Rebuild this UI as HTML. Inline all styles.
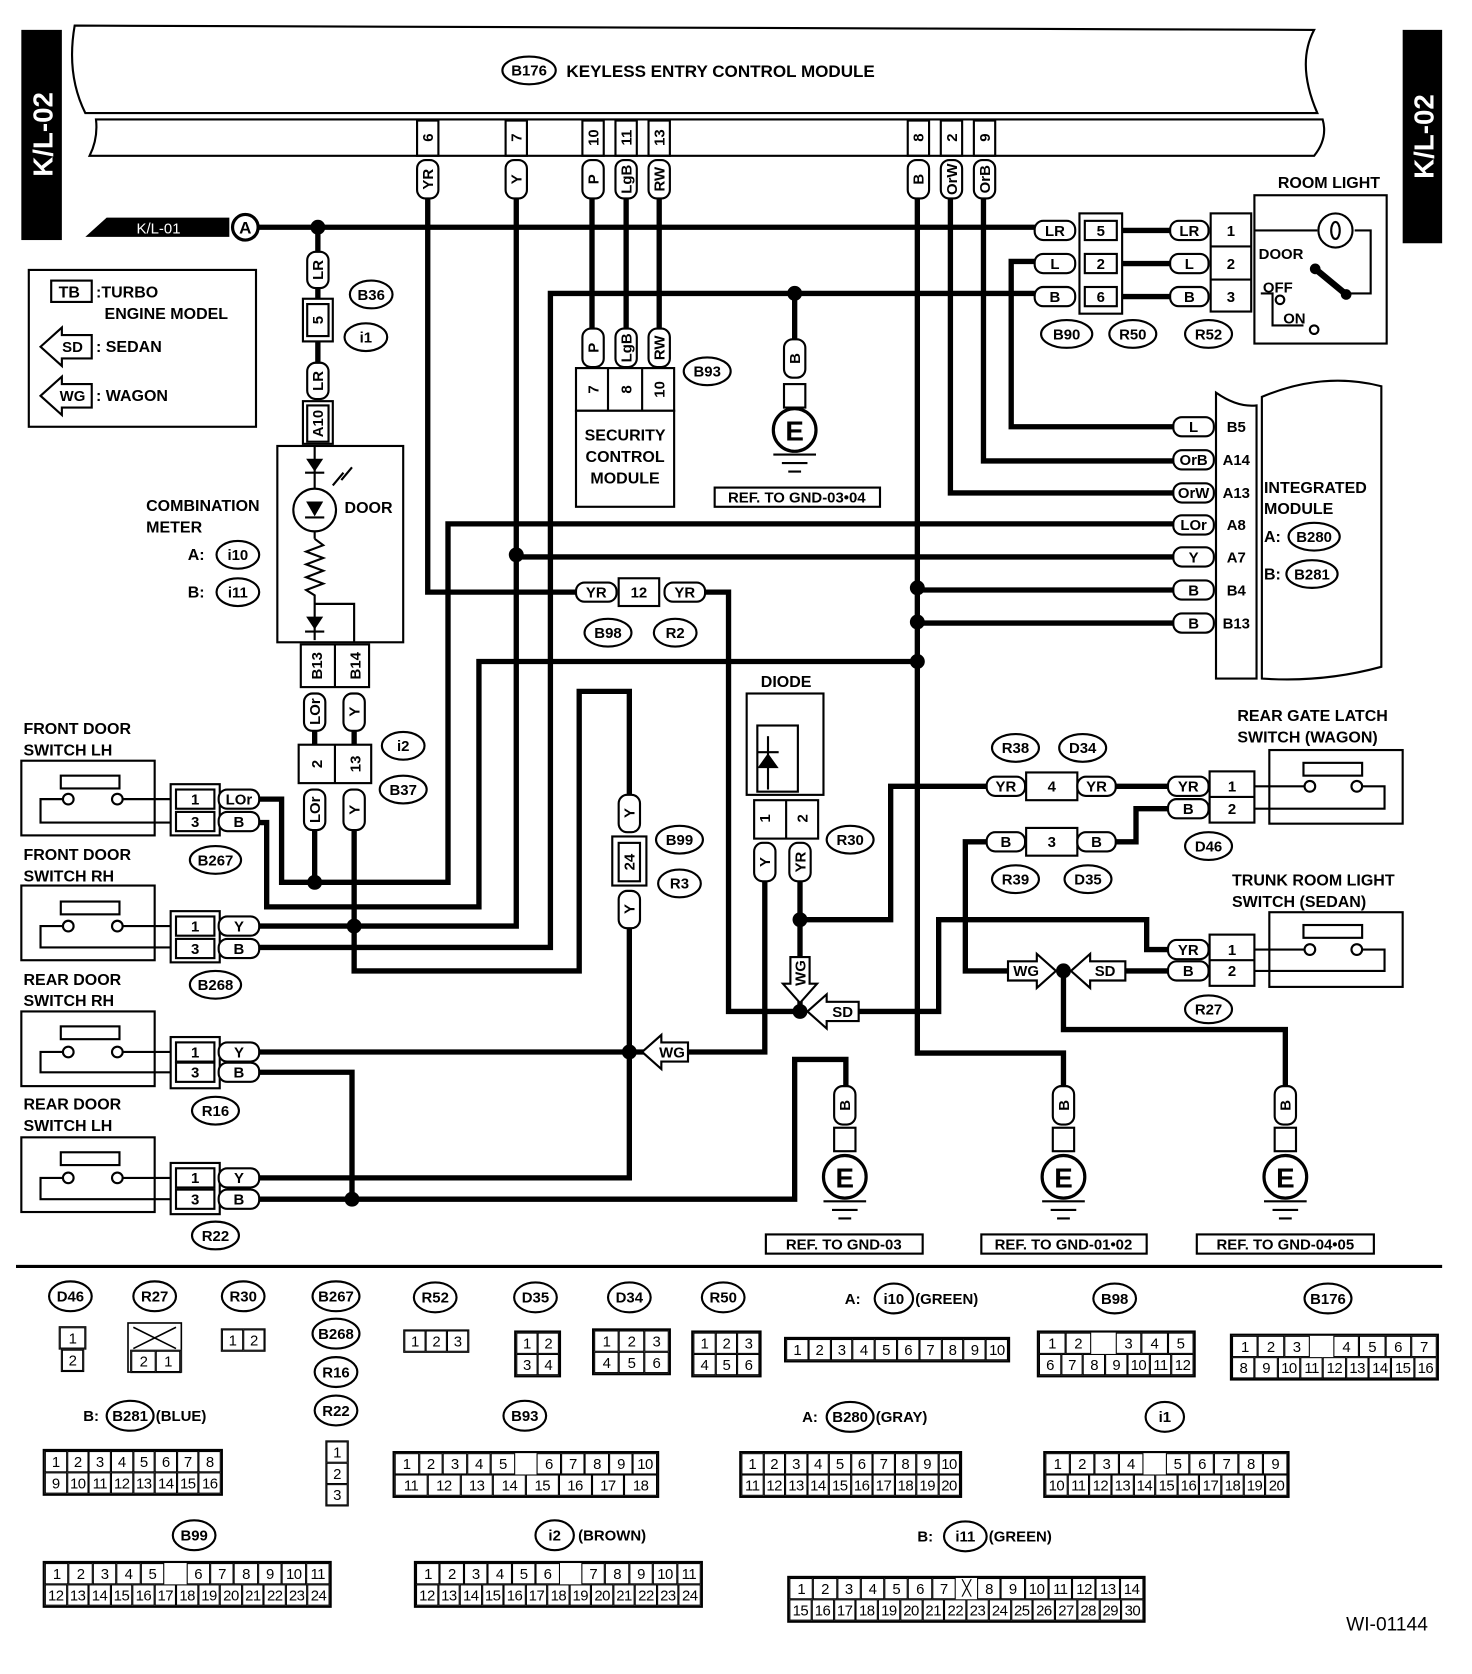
<!DOCTYPE html>
<html><head><meta charset="utf-8"><style>
html,body{margin:0;padding:0;background:#fff;}
#w{position:absolute;left:0;top:0;width:1380px;height:1569px;transform:scale(1.06667,1.06692);transform-origin:0 0;overflow:hidden;font-family:"Liberation Sans",sans-serif;font-weight:bold;}
svg{position:absolute;left:0;top:0;}
svg text{font-family:"Liberation Sans",sans-serif;font-weight:bold;}
.g{position:absolute;border:2px solid #000;background:#fff;}
.r{display:flex;}
.r span{flex:1;border:1px solid #000;height:18px;line-height:18px;text-align:center;font-size:14px;font-weight:normal;letter-spacing:-0.5px;}
.r span.n{border:none;}
</style></head><body><div id="w">
<svg width="1380" height="1569" viewBox="0 0 1380 1569">
<g fill="none" stroke="#000" stroke-width="2">
<path d="M70,24 L1232,28 Q1215,60 1235,106 L80,106 Q62,70 70,24 Z"/>
<path d="M90,112 L1240,112 Q1245,130 1232,146 L84,146 Q92,130 90,112 Z"/>
<rect x="391" y="113" width="20" height="33"/><rect x="474" y="113" width="20" height="33"/>
<rect x="546" y="113" width="20" height="33"/><rect x="577" y="113" width="20" height="33"/><rect x="608" y="113" width="20" height="33"/>
<rect x="851" y="113" width="20" height="33"/><rect x="882" y="113" width="20" height="33"/><rect x="913" y="113" width="20" height="33"/>
</g>
<rect x="20" y="28" width="38" height="197" fill="#000"/>
<rect x="1315" y="28" width="37" height="200" fill="#000"/>
<text transform="translate(49,126) rotate(-90)" text-anchor="middle" font-size="26" fill="#fff">K/L-02</text>
<text transform="translate(1344,128) rotate(-90)" text-anchor="middle" font-size="26" fill="#fff">K/L-02</text>
<ellipse cx="496" cy="66" rx="25" ry="13" fill="none" stroke="#000" stroke-width="2"/>
<text x="496" y="71" text-anchor="middle" font-size="14">B176</text>
<text x="531" y="72" font-size="16">KEYLESS ENTRY CONTROL MODULE</text>
<g font-size="14" text-anchor="middle">
<text transform="translate(406,129) rotate(-90)">6</text><text transform="translate(489,129) rotate(-90)">7</text>
<text transform="translate(561,129) rotate(-90)">10</text><text transform="translate(592,129) rotate(-90)">11</text><text transform="translate(623,129) rotate(-90)">13</text>
<text transform="translate(866,129) rotate(-90)">8</text><text transform="translate(897,129) rotate(-90)">2</text><text transform="translate(928,129) rotate(-90)">9</text>
</g>

<g fill="none" stroke="#000" stroke-width="5" stroke-linejoin="miter">
<path d="M242,213 H975"/>
<path d="M242,888 H516 V275 H975"/>
<path d="M745,275 V322"/>
<path d="M401,185 V555 H540"/>
<path d="M484,185 V868 H242"/>
<path d="M555,185 V310 M587,185 V310 M618,185 V310"/>
<path d="M298,213 V236 M298,270 V282 M298,318 V340"/>
<path d="M860,185 V987 H997 V1020"/>
<path d="M891,185 V462 H1100"/>
<path d="M922,185 V432 H1100"/>
<path d="M975,245 H948 V400 H1100"/>
<path d="M240,749 H264 V827 H420 V491 H1100"/>
<path d="M295,778 V827 M332,778 V868"/>
<path d="M295,685 V700 M332,685 V700"/>
<path d="M240,771 H250 V850 H449 V620 H860"/>
<path d="M484,522 H1100 M860,553 H1100 M860,584 H1100"/>
<path d="M660,555 H683 V948 H750"/>
<path d="M240,986 H717 V825"/>
<path d="M332,868 V910 H543 V648 H590 V745 M590,870 V1104 H240"/>
<path d="M240,1005 H330 V1124 M240,1124 H745 V993 H793 V1020"/>
<path d="M750,825 V948 M750,862 H835 V737 H925"/>
<path d="M800,948 H880 V862 H1075 V890 H1095"/>
<path d="M1045,737 H1095 M1095,758 H1065 V789 H1045"/>
<path d="M925,789 H905 V910 H950 M1055,910 H1095"/>
<path d="M997,910 V965 H1205 V1020"/>
<path d="M1050,216 H1115 M1050,247 H1115 M1050,278 H1115"/>
</g>
<g fill="#000">
<circle cx="298" cy="213" r="7"/><circle cx="745" cy="275" r="7"/><circle cx="484" cy="520" r="7"/>
<circle cx="860" cy="551" r="7"/><circle cx="860" cy="583" r="7"/><circle cx="860" cy="620" r="7"/>
<circle cx="295" cy="827" r="7"/><circle cx="332" cy="868" r="7"/><circle cx="330" cy="1124" r="7"/>
<circle cx="590" cy="986" r="7"/><circle cx="750" cy="862" r="7"/><circle cx="750" cy="948" r="7"/>
<circle cx="997" cy="910" r="7"/>
</g>

<polygon points="80,222 100,204 215,204 215,222" fill="#000"/>
<text x="128" y="219" font-size="14" fill="#fff" style="font-weight:normal">K/L-01</text>
<circle cx="230" cy="213" r="12" fill="#fff" stroke="#000" stroke-width="3"/>
<text x="230" y="219" text-anchor="middle" font-size="16">A</text>

<g fill="#fff" stroke="#000" stroke-width="2">
<rect x="391" y="150" width="20" height="36" rx="8"/><rect x="474" y="150" width="20" height="36" rx="8"/>
<rect x="546" y="150" width="20" height="36" rx="8"/><rect x="577" y="150" width="20" height="36" rx="8"/><rect x="608" y="150" width="20" height="36" rx="8"/>
<rect x="851" y="150" width="20" height="36" rx="8"/><rect x="882" y="150" width="20" height="36" rx="8"/><rect x="913" y="150" width="20" height="36" rx="8"/>
<rect x="546" y="308" width="20" height="36" rx="8"/><rect x="577" y="308" width="20" height="36" rx="8"/><rect x="608" y="308" width="20" height="36" rx="8"/>
<rect x="288" y="236" width="20" height="34" rx="8"/><rect x="288" y="340" width="20" height="34" rx="8"/>
<rect x="285" y="650" width="20" height="35" rx="8"/><rect x="322" y="650" width="20" height="35" rx="8"/>
<rect x="285" y="740" width="20" height="38" rx="8"/><rect x="322" y="740" width="20" height="38" rx="8"/>
<rect x="580" y="745" width="20" height="35" rx="8"/><rect x="580" y="835" width="20" height="35" rx="8"/>
<rect x="707" y="790" width="20" height="36" rx="8"/><rect x="740" y="790" width="20" height="36" rx="8"/>
<rect x="735" y="318" width="20" height="36" rx="8"/>
<rect x="782" y="1018" width="20" height="36" rx="8"/><rect x="987" y="1018" width="20" height="36" rx="8"/><rect x="1195" y="1018" width="20" height="36" rx="8"/>
<rect x="284" y="280" width="28" height="40"/><rect x="288" y="285" width="20" height="30"/>
<rect x="284" y="376" width="28" height="40"/><rect x="288" y="380" width="20" height="34"/>
<rect x="282" y="604" width="64" height="40"/><line x1="314" y1="604" x2="314" y2="644"/>
<rect x="280" y="698" width="68" height="36"/><line x1="314" y1="698" x2="314" y2="734"/>
<rect x="574" y="784" width="32" height="46"/><rect x="580" y="790" width="20" height="36"/>
<rect x="540" y="345" width="92" height="40"/><line x1="570" y1="345" x2="570" y2="385"/><line x1="602" y1="345" x2="602" y2="385"/>
<rect x="540" y="385" width="92" height="90"/>
<rect x="735" y="360" width="20" height="22"/><rect x="782" y="1057" width="20" height="22"/><rect x="987" y="1057" width="20" height="22"/><rect x="1195" y="1057" width="20" height="22"/>
<rect x="700" y="650" width="72" height="95"/><rect x="710" y="680" width="38" height="62" fill="none"/>
<rect x="707" y="750" width="60" height="36"/><line x1="737" y1="750" x2="737" y2="786"/>
<rect x="260" y="418" width="118" height="184"/>
</g>
<g font-size="14" text-anchor="middle">
<text transform="translate(406,168) rotate(-90)">YR</text><text transform="translate(489,168) rotate(-90)">Y</text>
<text transform="translate(561,168) rotate(-90)">P</text><text transform="translate(592,168) rotate(-90)">LgB</text><text transform="translate(623,168) rotate(-90)">RW</text>
<text transform="translate(866,168) rotate(-90)">B</text><text transform="translate(897,168) rotate(-90)">OrW</text><text transform="translate(928,168) rotate(-90)">OrB</text>
<text transform="translate(561,326) rotate(-90)">P</text><text transform="translate(592,326) rotate(-90)">LgB</text><text transform="translate(623,326) rotate(-90)">RW</text>
<text transform="translate(561,365) rotate(-90)">7</text><text transform="translate(592,365) rotate(-90)">8</text><text transform="translate(623,365) rotate(-90)">10</text>
<text transform="translate(303,253) rotate(-90)">LR</text><text transform="translate(303,300) rotate(-90)">5</text>
<text transform="translate(303,357) rotate(-90)">LR</text><text transform="translate(303,397) rotate(-90)">A10</text>
<text transform="translate(302,624) rotate(-90)">B13</text><text transform="translate(338,624) rotate(-90)">B14</text>
<text transform="translate(300,667) rotate(-90)">LOr</text><text transform="translate(337,667) rotate(-90)">Y</text>
<text transform="translate(302,716) rotate(-90)">2</text><text transform="translate(338,716) rotate(-90)">13</text>
<text transform="translate(300,759) rotate(-90)">LOr</text><text transform="translate(337,759) rotate(-90)">Y</text>
<text transform="translate(595,762) rotate(-90)">Y</text><text transform="translate(595,808) rotate(-90)">24</text><text transform="translate(595,852) rotate(-90)">Y</text>
<text transform="translate(722,767) rotate(-90)">1</text><text transform="translate(757,767) rotate(-90)">2</text>
<text transform="translate(722,808) rotate(-90)">Y</text><text transform="translate(755,808) rotate(-90)">YR</text>
<text transform="translate(750,336) rotate(-90)">B</text>
<text transform="translate(797,1036) rotate(-90)">B</text><text transform="translate(1002,1036) rotate(-90)">B</text><text transform="translate(1210,1036) rotate(-90)">B</text>
</g>
<g font-size="15" text-anchor="middle">
<text x="586" y="413">SECURITY</text><text x="586" y="433">CONTROL</text><text x="586" y="453">MODULE</text>
<text x="737" y="644">DIODE</text>
</g>
<path d="M720,690 V740" stroke="#000" stroke-width="2"/>
<polygon points="710,720 730,720 720,706" fill="#000"/><line x1="710" y1="705" x2="730" y2="705" stroke="#000" stroke-width="2"/>

<g stroke="#000" stroke-width="2" fill="none">
<path d="M295,418 V458 M295,498 V505 M295,505 l8,6 l-16,6 l16,6 l-16,6 l16,6 l-16,6 l16,6 l-16,6 l8,5 V600 M295,566 H332 V602"/>
<circle cx="295" cy="478" r="20"/>
<path d="M312,455 l10,-12 M320,450 l10,-12"/>
</g>
<g fill="#000">
<polygon points="287,430 303,430 295,442"/><line x1="286" y1="443" x2="304" y2="443" stroke="#000" stroke-width="2"/>
<polygon points="287,470 303,470 295,484"/><line x1="286" y1="485" x2="304" y2="485" stroke="#000" stroke-width="2"/>
<polygon points="287,578 303,578 295,590"/><line x1="286" y1="592" x2="304" y2="592" stroke="#000" stroke-width="2"/>
</g>
<text x="323" y="481" font-size="15">DOOR</text>
<g font-size="15"><text x="137" y="479">COMBINATION</text><text x="137" y="499">METER</text>
<text x="176" y="525">A:</text><text x="176" y="560">B:</text></g>

<rect x="27" y="253" width="213" height="147" fill="none" stroke="#000" stroke-width="2"/>
<rect x="48" y="263" width="38" height="20" fill="none" stroke="#000" stroke-width="2"/>
<g font-size="15"><text x="55" y="279">TB</text><text x="90" y="279">:TURBO</text><text x="98" y="299">ENGINE MODEL</text>
<text x="90" y="330">: SEDAN</text><text x="90" y="376">: WAGON</text></g>
<g fill="#fff" stroke="#000" stroke-width="2">
<polygon points="38,325 58,307 58,314 86,314 86,336 58,336 58,343"/>
<polygon points="38,371 58,353 58,360 86,360 86,382 58,382 58,389"/>
<polygon points="602,986 620,970 620,977 645,977 645,995 620,995 620,1002"/>
<polygon points="750,940 734,922 741,922 741,897 759,897 759,922 766,922"/>
<polygon points="757,948 775,932 775,939 805,939 805,957 775,957 775,964"/>
<polygon points="990,910 972,894 972,901 945,901 945,919 972,919 972,926"/>
<polygon points="1004,910 1022,894 1022,901 1055,901 1055,919 1022,919 1022,926"/>
</g>
<g font-size="14" text-anchor="middle"><text x="68" y="330">SD</text><text x="68" y="376">WG</text>
<text x="630" y="991">WG</text><text transform="translate(755,912) rotate(-90)">WG</text><text x="790" y="953">SD</text>
<text x="962" y="915">WG</text><text x="1036" y="915">SD</text></g>

<g fill="#fff" stroke="#000" stroke-width="2">
<rect x="970" y="207" width="38" height="18" rx="8"/><rect x="970" y="238" width="38" height="18" rx="8"/><rect x="970" y="269" width="38" height="18" rx="8"/>
<rect x="1012" y="200" width="40" height="94"/><rect x="1017" y="207" width="30" height="18"/><rect x="1017" y="238" width="30" height="18"/><rect x="1017" y="269" width="30" height="18"/>
<rect x="1097" y="207" width="36" height="18" rx="8"/><rect x="1097" y="238" width="36" height="18" rx="8"/><rect x="1097" y="269" width="36" height="18" rx="8"/>
<rect x="1135" y="200" width="38" height="92"/><line x1="1135" y1="231" x2="1173" y2="231"/><line x1="1135" y1="262" x2="1173" y2="262"/>
<rect x="1176" y="183" width="124" height="139"/>
<path d="M1140,368 Q1160,382 1178,380 V636 H1140 Z"/>
<path d="M1183,372 Q1240,348 1295,362 V625 Q1240,640 1183,636 Z"/>
<rect x="1100" y="391" width="38" height="18" rx="8"/><rect x="1100" y="422" width="38" height="18" rx="8"/><rect x="1100" y="453" width="38" height="18" rx="8"/>
<rect x="1100" y="483" width="38" height="18" rx="8"/><rect x="1100" y="513" width="38" height="18" rx="8"/><rect x="1100" y="544" width="38" height="18" rx="8"/><rect x="1100" y="575" width="38" height="18" rx="8"/>
<rect x="540" y="546" width="38" height="18" rx="8"/><rect x="580" y="542" width="38" height="26"/><rect x="623" y="546" width="38" height="18" rx="8"/>
<rect x="160" y="735" width="46" height="48"/><rect x="165" y="740" width="36" height="18"/><rect x="165" y="761" width="36" height="18"/>
<rect x="205" y="740" width="38" height="18" rx="8"/><rect x="205" y="761" width="38" height="18" rx="8"/>
<rect x="160" y="854" width="46" height="48"/><rect x="165" y="859" width="36" height="18"/><rect x="165" y="880" width="36" height="18"/>
<rect x="205" y="859" width="38" height="18" rx="8"/><rect x="205" y="880" width="38" height="18" rx="8"/>
<rect x="160" y="972" width="46" height="48"/><rect x="165" y="977" width="36" height="18"/><rect x="165" y="996" width="36" height="18"/>
<rect x="205" y="977" width="38" height="18" rx="8"/><rect x="205" y="996" width="38" height="18" rx="8"/>
<rect x="160" y="1090" width="46" height="48"/><rect x="165" y="1095" width="36" height="18"/><rect x="165" y="1115" width="36" height="18"/>
<rect x="205" y="1095" width="38" height="18" rx="8"/><rect x="205" y="1115" width="38" height="18" rx="8"/>
<rect x="20" y="713" width="125" height="70"/><rect x="20" y="830" width="125" height="70"/><rect x="20" y="948" width="125" height="70"/><rect x="20" y="1066" width="125" height="70"/>
<rect x="925" y="728" width="36" height="18" rx="8"/><rect x="962" y="724" width="48" height="26"/><rect x="1010" y="728" width="36" height="18" rx="8"/>
<rect x="925" y="780" width="36" height="18" rx="8"/><rect x="962" y="776" width="48" height="26"/><rect x="1010" y="780" width="36" height="18" rx="8"/>
<rect x="1095" y="728" width="38" height="18" rx="8"/><rect x="1095" y="749" width="38" height="18" rx="8"/>
<rect x="1134" y="723" width="42" height="48"/><line x1="1134" y1="747" x2="1176" y2="747"/>
<rect x="1095" y="881" width="38" height="18" rx="8"/><rect x="1095" y="901" width="38" height="18" rx="8"/>
<rect x="1134" y="876" width="42" height="48"/><line x1="1134" y1="900" x2="1176" y2="900"/>
<rect x="1190" y="703" width="125" height="69"/><rect x="1190" y="855" width="125" height="70"/>
</g>
<g font-size="14" text-anchor="middle">
<text x="989" y="221">LR</text><text x="989" y="252">L</text><text x="989" y="283">B</text>
<text x="1032" y="221">5</text><text x="1032" y="252">2</text><text x="1032" y="283">6</text>
<text x="1115" y="221">LR</text><text x="1115" y="252">L</text><text x="1115" y="283">B</text>
<text x="1154" y="221">1</text><text x="1154" y="252">2</text><text x="1154" y="283">3</text>
<text x="1119" y="405">L</text><text x="1119" y="436">OrB</text><text x="1119" y="467">OrW</text><text x="1119" y="497">LOr</text><text x="1119" y="527">Y</text><text x="1119" y="558">B</text><text x="1119" y="589">B</text>
<text x="1159" y="405">B5</text><text x="1159" y="436">A14</text><text x="1159" y="467">A13</text><text x="1159" y="497">A8</text><text x="1159" y="527">A7</text><text x="1159" y="558">B4</text><text x="1159" y="589">B13</text>
<text x="559" y="560">YR</text><text x="599" y="560">12</text><text x="642" y="560">YR</text>
<text x="183" y="754">1</text><text x="183" y="775">3</text><text x="224" y="754">LOr</text><text x="224" y="775">B</text>
<text x="183" y="873">1</text><text x="183" y="894">3</text><text x="224" y="873">Y</text><text x="224" y="894">B</text>
<text x="183" y="991">1</text><text x="183" y="1010">3</text><text x="224" y="991">Y</text><text x="224" y="1010">B</text>
<text x="183" y="1109">1</text><text x="183" y="1129">3</text><text x="224" y="1109">Y</text><text x="224" y="1129">B</text>
<text x="943" y="742">YR</text><text x="986" y="742">4</text><text x="1028" y="742">YR</text>
<text x="943" y="794">B</text><text x="986" y="794">3</text><text x="1028" y="794">B</text>
<text x="1114" y="742">YR</text><text x="1114" y="763">B</text><text x="1155" y="742">1</text><text x="1155" y="763">2</text>
<text x="1114" y="895">YR</text><text x="1114" y="915">B</text><text x="1155" y="895">1</text><text x="1155" y="915">2</text>
</g>
<g stroke="#000" stroke-width="2" fill="none">
<path d="M1176,216 H1235 M1270,216 H1285 V275 H1260"/>
<circle cx="1252" cy="216" r="16"/><ellipse cx="1252" cy="216" rx="4" ry="8"/>
<path d="M1182,275 H1193 V305 H1222"/><circle cx="1200" cy="281" r="4"/><circle cx="1232" cy="309" r="4"/>
</g>
<path d="M1233,252 L1262,276" stroke="#000" stroke-width="6"/><circle cx="1233" cy="252" r="5"/><circle cx="1262" cy="276" r="5"/>
<g font-size="15"><text x="1198" y="176">ROOM LIGHT</text></g>
<g font-size="14"><text x="1180" y="243">DOOR</text><text x="1184" y="274">OFF</text><text x="1203" y="303">ON</text></g>
<g font-size="15"><text x="1185" y="462">INTEGRATED</text><text x="1185" y="482">MODULE</text><text x="1185" y="508">A:</text><text x="1185" y="543">B:</text></g>

<g stroke="#000" stroke-width="2" fill="none">
<rect x="57" y="727" width="55" height="12"/><circle cx="64" cy="749" r="5"/><circle cx="110" cy="749" r="5"/><path d="M59,749 H38 V771 H160 M115,749 H160"/>
<rect x="57" y="845" width="55" height="12"/><circle cx="64" cy="868" r="5"/><circle cx="110" cy="868" r="5"/><path d="M59,868 H38 V888 H160 M115,868 H160"/>
<rect x="57" y="962" width="55" height="12"/><circle cx="64" cy="986" r="5"/><circle cx="110" cy="986" r="5"/><path d="M59,986 H38 V1005 H160 M115,986 H160"/>
<rect x="57" y="1080" width="55" height="12"/><circle cx="64" cy="1104" r="5"/><circle cx="110" cy="1104" r="5"/><path d="M59,1104 H38 V1124 H160 M115,1104 H160"/>
<rect x="1222" y="715" width="55" height="12"/><circle cx="1228" cy="737" r="5"/><circle cx="1272" cy="737" r="5"/><path d="M1176,737 H1223 M1277,737 H1298 V758 H1176"/>
<rect x="1222" y="867" width="55" height="12"/><circle cx="1228" cy="890" r="5"/><circle cx="1272" cy="890" r="5"/><path d="M1176,890 H1223 M1277,890 H1298 V910 H1176"/>
</g>
<g font-size="15">
<text x="22" y="688">FRONT DOOR</text><text x="22" y="708">SWITCH LH</text>
<text x="22" y="806">FRONT DOOR</text><text x="22" y="826">SWITCH RH</text>
<text x="22" y="923">REAR DOOR</text><text x="22" y="943">SWITCH RH</text>
<text x="22" y="1040">REAR DOOR</text><text x="22" y="1060">SWITCH LH</text>
<text x="1160" y="676">REAR GATE LATCH</text><text x="1160" y="696">SWITCH (WAGON)</text>
<text x="1155" y="830">TRUNK ROOM LIGHT</text><text x="1155" y="850">SWITCH (SEDAN)</text>
</g>

<g stroke="#000" stroke-width="3" fill="#fff">
<circle cx="745" cy="403" r="20"/><circle cx="792" cy="1103" r="20"/><circle cx="997" cy="1103" r="20"/><circle cx="1205" cy="1103" r="20"/>
</g>
<g stroke="#000" stroke-width="2">
<path d="M725,426 H765 M733,434 H757 M739,442 H751"/>
<path d="M772,1126 H812 M780,1134 H804 M786,1142 H798"/>
<path d="M977,1126 H1017 M985,1134 H1009 M991,1142 H1003"/>
<path d="M1185,1126 H1225 M1193,1134 H1217 M1199,1142 H1211"/>
</g>
<g font-size="26" text-anchor="middle"><text x="745" y="413">E</text><text x="792" y="1113">E</text><text x="997" y="1113">E</text><text x="1205" y="1113">E</text></g>
<g fill="none" stroke="#000" stroke-width="2">
<rect x="670" y="457" width="155" height="18"/><rect x="718" y="1157" width="147" height="18"/><rect x="920" y="1157" width="155" height="18"/><rect x="1122" y="1157" width="166" height="18"/>
</g>
<g font-size="14" text-anchor="middle"><text x="747" y="471">REF. TO GND-03•04</text><text x="791" y="1171">REF. TO GND-03</text><text x="997" y="1171">REF. TO GND-01•02</text><text x="1205" y="1171">REF. TO GND-04•05</text></g>

<g fill="#fff" stroke="#000" stroke-width="2">
<ellipse cx="348" cy="276" rx="20" ry="13"/><ellipse cx="343" cy="316" rx="20" ry="13"/><ellipse cx="663" cy="348" rx="22" ry="13"/>
<ellipse cx="223" cy="520" rx="20" ry="13"/><ellipse cx="223" cy="555" rx="20" ry="13"/>
<ellipse cx="570" cy="593" rx="22" ry="13"/><ellipse cx="633" cy="593" rx="20" ry="13"/>
<ellipse cx="378" cy="699" rx="20" ry="13"/><ellipse cx="378" cy="740" rx="22" ry="13"/>
<ellipse cx="202" cy="806" rx="24" ry="13"/><ellipse cx="202" cy="923" rx="24" ry="13"/><ellipse cx="202" cy="1041" rx="22" ry="13"/><ellipse cx="202" cy="1158" rx="22" ry="13"/>
<ellipse cx="637" cy="787" rx="22" ry="13"/><ellipse cx="637" cy="828" rx="20" ry="13"/><ellipse cx="797" cy="787" rx="22" ry="13"/>
<ellipse cx="952" cy="701" rx="22" ry="13"/><ellipse cx="1015" cy="701" rx="22" ry="13"/><ellipse cx="1133" cy="793" rx="22" ry="13"/>
<ellipse cx="952" cy="824" rx="22" ry="13"/><ellipse cx="1020" cy="824" rx="22" ry="13"/><ellipse cx="1133" cy="946" rx="22" ry="13"/>
<ellipse cx="1000" cy="313" rx="24" ry="13"/><ellipse cx="1062" cy="313" rx="22" ry="13"/><ellipse cx="1133" cy="313" rx="22" ry="13"/>
<ellipse cx="1232" cy="503" rx="24" ry="13"/><ellipse cx="1230" cy="538" rx="24" ry="13"/>
</g>
<g font-size="14" text-anchor="middle">
<text x="348" y="281">B36</text><text x="343" y="321">i1</text><text x="663" y="353">B93</text>
<text x="223" y="525">i10</text><text x="223" y="560">i11</text>
<text x="570" y="598">B98</text><text x="633" y="598">R2</text>
<text x="378" y="704">i2</text><text x="378" y="745">B37</text>
<text x="202" y="811">B267</text><text x="202" y="928">B268</text><text x="202" y="1046">R16</text><text x="202" y="1163">R22</text>
<text x="637" y="792">B99</text><text x="637" y="833">R3</text><text x="797" y="792">R30</text>
<text x="952" y="706">R38</text><text x="1015" y="706">D34</text><text x="1133" y="798">D46</text>
<text x="952" y="829">R39</text><text x="1020" y="829">D35</text><text x="1133" y="951">R27</text>
<text x="1000" y="318">B90</text><text x="1062" y="318">R50</text><text x="1133" y="318">R52</text>
<text x="1232" y="508">B280</text><text x="1230" y="543">B281</text>
</g>

<line x1="15" y1="1187" x2="1352" y2="1187" stroke="#000" stroke-width="3"/>
<g fill="#fff" stroke="#000" stroke-width="2">
<ellipse cx="66" cy="1215" rx="20" ry="14"/><ellipse cx="145" cy="1215" rx="20" ry="14"/><ellipse cx="228" cy="1215" rx="20" ry="14"/>
<ellipse cx="315" cy="1215" rx="22" ry="14"/><ellipse cx="315" cy="1250" rx="22" ry="14"/><ellipse cx="315" cy="1286" rx="20" ry="14"/><ellipse cx="315" cy="1322" rx="20" ry="14"/>
<ellipse cx="408" cy="1216" rx="20" ry="14"/><ellipse cx="502" cy="1216" rx="20" ry="14"/><ellipse cx="590" cy="1216" rx="20" ry="14"/><ellipse cx="678" cy="1216" rx="20" ry="14"/>
<ellipse cx="838" cy="1217" rx="18" ry="14"/><ellipse cx="1045" cy="1217" rx="20" ry="14"/><ellipse cx="1245" cy="1217" rx="22" ry="14"/>
<ellipse cx="122" cy="1327" rx="22" ry="14"/><ellipse cx="492" cy="1327" rx="20" ry="14"/><ellipse cx="797" cy="1328" rx="22" ry="14"/><ellipse cx="1092" cy="1328" rx="18" ry="14"/>
<ellipse cx="182" cy="1439" rx="20" ry="14"/><ellipse cx="520" cy="1439" rx="18" ry="14"/><ellipse cx="905" cy="1440" rx="20" ry="14"/>
</g>
<g font-size="14" text-anchor="middle">
<text x="66" y="1220">D46</text><text x="145" y="1220">R27</text><text x="228" y="1220">R30</text>
<text x="315" y="1220">B267</text><text x="315" y="1255">B268</text><text x="315" y="1291">R16</text><text x="315" y="1327">R22</text>
<text x="408" y="1221">R52</text><text x="502" y="1221">D35</text><text x="590" y="1221">D34</text><text x="678" y="1221">R50</text>
<text x="838" y="1222">i10</text><text x="1045" y="1222">B98</text><text x="1245" y="1222">B176</text>
<text x="122" y="1332">B281</text><text x="492" y="1332">B93</text><text x="797" y="1333">B280</text><text x="1092" y="1333">i1</text>
<text x="182" y="1444">B99</text><text x="520" y="1444">i2</text><text x="905" y="1445">i11</text>
</g>
<g font-size="14">
<text x="792" y="1222">A:</text><text x="858" y="1222">(GREEN)</text>
<text x="78" y="1332">B:</text><text x="146" y="1332">(BLUE)</text>
<text x="752" y="1333">A:</text><text x="821" y="1333">(GRAY)</text>
<text x="542" y="1444">(BROWN)</text>
<text x="860" y="1445">B:</text><text x="927" y="1445">(GREEN)</text>
<text x="1262" y="1528" style="font-weight:normal" font-size="18">WI-01144</text>
</g>
<g fill="none" stroke="#000" stroke-width="1.5">
<rect x="120" y="1240" width="50" height="46"/><line x1="125" y1="1244" x2="165" y2="1264"/><line x1="165" y1="1244" x2="125" y2="1264"/>
</g>
</svg>

<div class="g" style="left:55px;top:1243px;width:24px;border-width:1px"><div class="r"><span>1</span></div></div>
<div class="g" style="left:57px;top:1264px;width:20px;border-width:1px"><div class="r"><span>2</span></div></div>
<div class="g" style="left:122px;top:1265px;width:46px;border-width:1px"><div class="r"><span>2</span><span>1</span></div></div>
<div class="g" style="left:207px;top:1245px;width:40px;border-width:1px"><div class="r"><span>1</span><span>2</span></div></div>
<div class="g" style="left:305px;top:1350px;width:20px;border-width:1px"><div class="r"><span>1</span></div><div class="r"><span>2</span></div><div class="r"><span>3</span></div></div>
<div class="g" style="left:378px;top:1246px;width:60px;border-width:1px"><div class="r"><span>1</span><span>2</span><span>3</span></div></div>
<div class="g" style="left:482px;top:1247px;width:40px"><div class="r"><span>1</span><span>2</span></div><div class="r"><span>3</span><span>4</span></div></div>
<div class="g" style="left:555px;top:1245px;width:70px"><div class="r"><span>1</span><span>2</span><span>3</span></div><div class="r"><span>4</span><span>5</span><span>6</span></div></div>
<div class="g" style="left:648px;top:1247px;width:62px"><div class="r"><span>1</span><span>2</span><span>3</span></div><div class="r"><span>4</span><span>5</span><span>6</span></div></div>
<div class="g" style="left:735px;top:1253px;width:208px"><div class="r"><span>1</span><span>2</span><span>3</span><span>4</span><span>5</span><span>6</span><span>7</span><span>8</span><span>9</span><span>10</span></div></div>
<div class="g" style="left:972px;top:1247px;width:145px"><div class="r"><span>1</span><span>2</span><span class="n"></span><span>3</span><span>4</span><span>5</span></div><div class="r"><span>6</span><span>7</span><span>8</span><span>9</span><span>10</span><span>11</span><span>12</span></div></div>
<div class="g" style="left:1153px;top:1250px;width:192px"><div class="r"><span>1</span><span>2</span><span>3</span><span class="n"></span><span>4</span><span>5</span><span>6</span><span>7</span></div><div class="r"><span>8</span><span>9</span><span>10</span><span>11</span><span>12</span><span>13</span><span>14</span><span>15</span><span>16</span></div></div>
<div class="g" style="left:40px;top:1358px;width:165px"><div class="r"><span>1</span><span>2</span><span>3</span><span>4</span><span>5</span><span>6</span><span>7</span><span>8</span></div><div class="r"><span>9</span><span>10</span><span>11</span><span>12</span><span>13</span><span>14</span><span>15</span><span>16</span></div></div>
<div class="g" style="left:368px;top:1360px;width:246px"><div class="r"><span>1</span><span>2</span><span>3</span><span>4</span><span>5</span><span class="n"></span><span>6</span><span>7</span><span>8</span><span>9</span><span>10</span></div><div class="r"><span>11</span><span>12</span><span>13</span><span>14</span><span>15</span><span>16</span><span>17</span><span>18</span></div></div>
<div class="g" style="left:693px;top:1360px;width:205px"><div class="r"><span>1</span><span>2</span><span>3</span><span>4</span><span>5</span><span>6</span><span>7</span><span>8</span><span>9</span><span>10</span></div><div class="r"><span>11</span><span>12</span><span>13</span><span>14</span><span>15</span><span>16</span><span>17</span><span>18</span><span>19</span><span>20</span></div></div>
<div class="g" style="left:978px;top:1360px;width:227px"><div class="r"><span>1</span><span>2</span><span>3</span><span>4</span><span class="n"></span><span>5</span><span>6</span><span>7</span><span>8</span><span>9</span></div><div class="r"><span>10</span><span>11</span><span>12</span><span>13</span><span>14</span><span>15</span><span>16</span><span>17</span><span>18</span><span>19</span><span>20</span></div></div>
<div class="g" style="left:40px;top:1463px;width:267px"><div class="r"><span>1</span><span>2</span><span>3</span><span>4</span><span>5</span><span class="n"></span><span>6</span><span>7</span><span>8</span><span>9</span><span>10</span><span>11</span></div><div class="r"><span>12</span><span>13</span><span>14</span><span>15</span><span>16</span><span>17</span><span>18</span><span>19</span><span>20</span><span>21</span><span>22</span><span>23</span><span>24</span></div></div>
<div class="g" style="left:388px;top:1463px;width:267px"><div class="r"><span>1</span><span>2</span><span>3</span><span>4</span><span>5</span><span>6</span><span class="n"></span><span>7</span><span>8</span><span>9</span><span>10</span><span>11</span></div><div class="r"><span>12</span><span>13</span><span>14</span><span>15</span><span>16</span><span>17</span><span>18</span><span>19</span><span>20</span><span>21</span><span>22</span><span>23</span><span>24</span></div></div>
<div class="g" style="left:738px;top:1477px;width:332px"><div class="r"><span>1</span><span>2</span><span>3</span><span>4</span><span>5</span><span>6</span><span>7</span><span class="n">╳</span><span>8</span><span>9</span><span>10</span><span>11</span><span>12</span><span>13</span><span>14</span></div><div class="r"><span>15</span><span>16</span><span>17</span><span>18</span><span>19</span><span>20</span><span>21</span><span>22</span><span>23</span><span>24</span><span>25</span><span>26</span><span>27</span><span>28</span><span>29</span><span>30</span></div></div>
</div></body></html>
